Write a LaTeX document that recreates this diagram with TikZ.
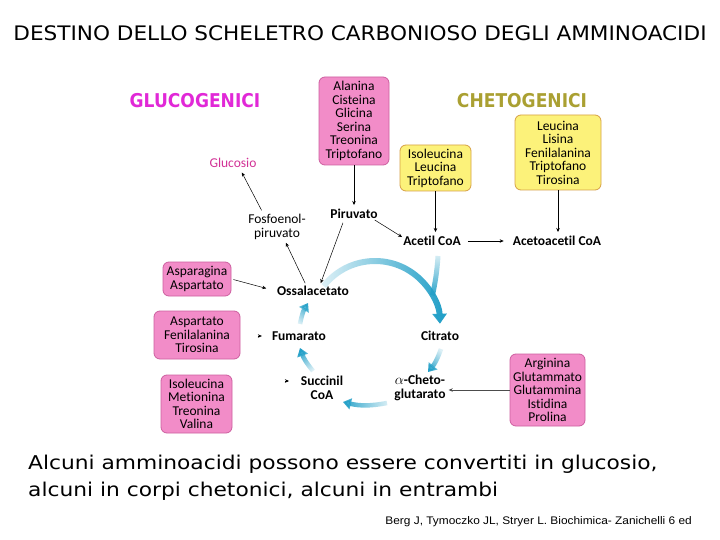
\documentclass[tikz,border=0pt]{standalone}
\usepackage{fontspec}
\usepackage{graphicx}
\setmainfont{Carlito}[Ligatures=CommonOff]
\newfontfamily\comic{DejaVu Sans}
\newfontfamily\arialf{Liberation Sans}
\usetikzlibrary{arrows.meta,fadings,calc}
\definecolor{pinkF}{RGB}{242,140,200}
\definecolor{pinkD}{RGB}{205,95,160}
\definecolor{yelF}{RGB}{252,242,122}
\definecolor{yelD}{RGB}{215,160,70}
\definecolor{cycD}{RGB}{35,160,200}
\definecolor{glucC}{RGB}{225,40,215}
\definecolor{chetoC}{RGB}{170,160,50}
\definecolor{glucT}{RGB}{210,50,150}
\tikzfading[name=fadeUp, bottom color=transparent!85, top color=transparent!0]
\tikzset{
  boxtxt/.style={align=center, inner sep=0pt, font=\fontsize{13.5}{13.5}\selectfont},
  pinkbox/.style={boxtxt, draw=pinkD, fill=pinkF, rounded corners=6pt, line width=0.8pt},
  yelbox/.style={boxtxt, draw=yelD, fill=yelF, rounded corners=6pt, line width=0.8pt},
  lab/.style={align=center, inner sep=1pt, font=\fontsize{13.5}{14}\selectfont},
  blab/.style={align=center, inner sep=1pt, font=\fontsize{13.5}{14}\selectfont\bfseries},
  thinarr/.style={-{Stealth[length=4pt,width=3.5pt]}, line width=0.5pt, black},
  cyc/.style={line width=6pt, color=cycD, -{Triangle[width=14pt,length=10pt]}},
  cycs/.style={line width=4.5pt, color=cycD, -{Triangle[width=11pt,length=8pt]}},
  cycline/.style={line width=5pt, color=cycD},
}
\begin{document}
\begin{tikzpicture}[x=1pt,y=-1pt]
\useasboundingbox (0,0) rectangle (720,540);
\fill[white] (0,0) rectangle (720,540);

% titles
\node[inner sep=0pt, font=\comic\fontsize{20}{24}\selectfont] (title) at (360,33) {\scalebox{1.08}[1]{DESTINO DELLO SCHELETRO CARBONIOSO DEGLI AMMINOACIDI}};
\node[inner sep=0pt, text=glucC, font=\comic\bfseries\fontsize{19}{22}\selectfont] (glucogen) at (195,101) {\scalebox{0.9}[1]{GLUCOGENICI}};
\node[inner sep=0pt, text=chetoC, font=\comic\bfseries\fontsize{19}{22}\selectfont] (chetogen) at (522,101) {\scalebox{0.9}[1]{CHETOGENICI}};

% boxes
\node[pinkbox, minimum width=70pt, minimum height=88pt] (ala) at (354,121) {Alanina\\Cisteina\\Glicina\\Serina\\Treonina\\Triptofano};
\node[yelbox, minimum width=71pt, minimum height=46pt] (iso) at (435.5,168) {Isoleucina\\Leucina\\Triptofano};
\node[yelbox, minimum width=86pt, minimum height=75pt] (leu) at (558,152.5) {Leucina\\Lisina\\Fenilalanina\\Triptofano\\Tirosina};
\node[pinkbox, minimum width=68pt, minimum height=34pt] (asp) at (197,279) {Asparagina\\Aspartato};
\node[pinkbox, minimum width=86pt, minimum height=48pt] (aft) at (197,335) {Aspartato\\Fenilalanina\\Tirosina};
\node[pinkbox, minimum width=71pt, minimum height=58pt] (imtv) at (196.5,404) {Isoleucina\\Metionina\\Treonina\\Valina};
\node[pinkbox, minimum width=75pt, minimum height=72pt] (arg) at (547.5,390) {Arginina\\Glutammato\\Glutammina\\Istidina\\Prolina};

% labels
\node[lab, text=glucT] (gluc) at (233,163) {Glucosio};
\node[lab] (fosfo) at (277,227) {Fosfoenol-\\piruvato};
\node[blab] (piru) at (354,214) {Piruvato};
\node[blab] (acetil) at (432,241) {Acetil CoA};
\node[blab] (acetoac) at (557,241) {Acetoacetil CoA};
\node[blab] (ossal) at (313,291) {Ossalacetato};
\node[blab] (fum) at (299,336) {Fumarato};
\node[blab] (citr) at (440,336) {Citrato};
\node[blab] (succ) at (322,388) {Succinil\\CoA};
\node[blab] (acheto) at (420,388) {$\alpha$-Cheto-\\glutarato};

% thin arrows
\draw[thinarr, shorten >=3pt] (ala.south) -- (piru.north);
\draw[thinarr, shorten >=3pt] (iso.south) -- (iso.south |- acetil.north);
\draw[thinarr, shorten >=3pt] (leu.south) -- (leu.south |- acetoac.north);
\draw[thinarr, shorten <=6pt, shorten >=8pt] (acetil.east) -- (acetoac.west);
\draw[thinarr] ($(piru.east)+(-4,6)$) -- ($(acetil.north west)+(0,2)$);
\draw[thinarr, shorten <=3pt, shorten >=2pt] ($(piru.south)+(-10,0)$) -- ($(ossal.north)+(7,0)$);
\draw[thinarr, shorten <=2pt, shorten >=2pt] ($(ossal.north)+(-7,0)$) -- ($(fosfo.south)+(8,0)$);
\draw[thinarr, shorten <=3pt, shorten >=4pt] ($(fosfo.north)+(-14,0)$) -- ($(gluc.south)+(7,0)$);
\draw[thinarr, shorten <=2pt, shorten >=10pt] (asp.east) -- (ossal.west);
\draw[thinarr, black!70, shorten >=2pt] (arg.west) -- (arg.west -| acheto.east);
\coordinate (tf) at ($(fum.west)+(-9,0)$);
\draw[thinarr] ($(tf)+(-4,0)$) -- (tf);
\coordinate (ts) at (289,381);
\draw[thinarr] ($(ts)+(-4,0)$) -- (ts);

% citric acid cycle
\coordinate (C) at (375,326);
\draw[cyc, path fading=fadeUp, fading angle=-90] ($(C)+(142:65pt)$) arc[start angle=142, end angle=2, radius=65pt];
\draw[cycline, path fading=fadeUp, fading angle=180] (438,256) .. controls (437,272) and (435,284) .. ($(C)+(28:65pt)$);
\draw[cycs, path fading=fadeUp, fading angle=149] (441,349) to[bend left=10] (428,372);
\draw[cycs, path fading=fadeUp, fading angle=90] (387,403) to[bend left=12] (343,402);
\draw[cycs, path fading=fadeUp, fading angle=30] (313,371) to[bend left=10] (300,348);
\draw[cycs, path fading=fadeUp, fading angle=-21] (300,324) to[bend left=10] (308,303);

% bottom text
\node[anchor=base west, inner sep=0pt, font=\comic\fontsize{19}{27}\selectfont] (line1) at (28,469) {\scalebox{1.145}[1]{Alcuni amminoacidi possono essere convertiti in glucosio,}};
\node[anchor=base west, inner sep=0pt, font=\comic\fontsize{19}{27}\selectfont] (line2) at (28,496) {\scalebox{1.145}[1]{alcuni in corpi chetonici, alcuni in entrambi}};
\node[anchor=base east, inner sep=0pt, font=\arialf\fontsize{11}{13}\selectfont] (cite) at (692,524) {\scalebox{1.08}[1]{Berg J, Tymoczko JL, Stryer L. Biochimica- Zanichelli 6 ed}};
\end{tikzpicture}
\end{document}
